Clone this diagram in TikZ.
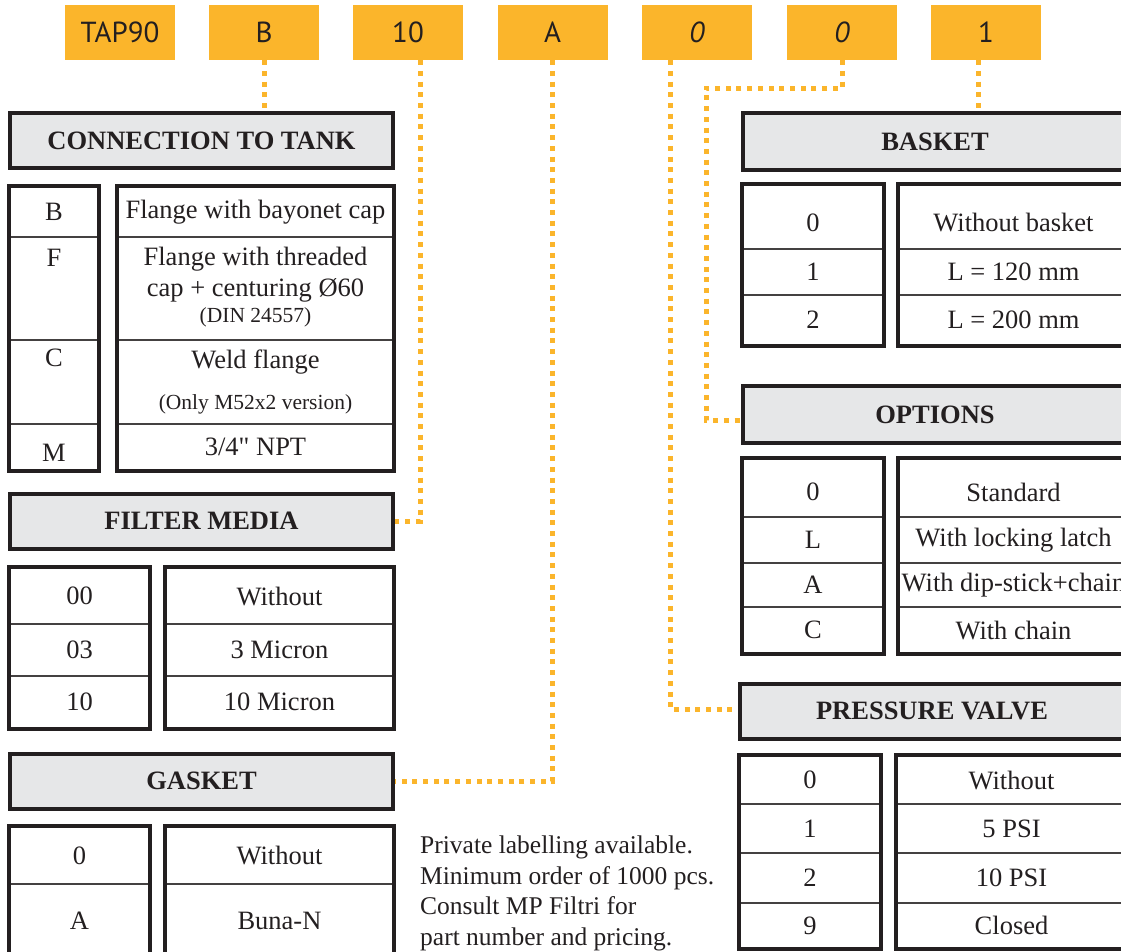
\documentclass[tikz,border=0pt]{standalone}
\usepackage{fontspec}
\setmainfont{Liberation Serif}[Ligatures=TeXOff]
\newfontfamily\selfont{PT Sans}
\usepackage{tikz}
\usetikzlibrary{
  positioning,
  fit
}

\definecolor{selorange}{HTML}{FBB52B}
\definecolor{headgray}{HTML}{E6E7E8}
\definecolor{edge}{HTML}{231F20}

\newcommand{\tabsize}{\fontsize{26.5}{30.5}\selectfont}
\newcommand{\notesize}{\fontsize{25.5}{30.5}\selectfont}
\newcommand{\finesize}{\fontsize{21.5}{25}\selectfont}

\begin{document}
\begin{tikzpicture}[
  x=1pt, y=-1pt,
  selbox/.style={
    rectangle,
    fill=selorange,
    minimum width=110pt,
    minimum height=55pt,
    inner sep=0pt,
    text=edge,
    font=\selfont\fontsize{29}{32}\selectfont
  },
  header/.style={
    rectangle,
    draw=edge,
    line width=4pt,
    fill=headgray,
    minimum width=383pt,
    minimum height=55pt,
    inner sep=0pt,
    text=edge,
    font=\bfseries\tabsize
  },
  cell/.style={
    rectangle,
    draw=edge!85,
    line width=1.8pt,
    inner sep=0pt,
    text=edge,
    font=\tabsize
  },
  frame/.style={
    rectangle,
    draw=edge,
    line width=4pt,
    inner sep=0pt
  },
  txt/.style={
    inner sep=0pt,
    text=edge,
    font=\tabsize
  },
  fine/.style={
    inner sep=0pt,
    text=edge,
    font=\finesize
  },
  dots/.style={
    draw=selorange,
    line width=5pt,
    dash pattern=on 5pt off 5.7pt
  }
]

\useasboundingbox (0,0) rectangle (1121,951);

% Ordering code
\node[selbox] (selTap) at (120,32.5) {TAP90};
\node[selbox] (selB) at (264,32.5) {B};
\node[selbox] (sel10) at (408,32.5) {10};
\node[selbox] (selA) at (552.5,32.5) {A};
\node[selbox] (sel0a) at (697,32.5) {\itshape 0};
\node[selbox] (sel0b) at (842,32.5) {\itshape 0};
\node[selbox] (sel1) at (986,32.5) {1};

% Section headers
\node[header] (hConn) at (201.5,140.5) {CONNECTION TO TANK};
\node[header] (hFilter) at (201.5,521) {FILTER MEDIA};
\node[header] (hGasket) at (201.5,781) {GASKET};
\node[header, minimum width=384pt, minimum height=57pt] (hBasket) at (935,141.5) {BASKET};
\node[header, minimum width=384pt, minimum height=57pt] (hOptions) at (935,414.5) {OPTIONS};
\node[header, minimum width=384pt] (hValve) at (932,711) {PRESSURE VALVE};

% Connection to tank
\node[cell, minimum width=88pt, minimum height=50pt] (cnB) at (54,212) {B};
\node[cell, minimum width=88pt, minimum height=103pt] (cnF) at (54,288.5) {};
\node[cell, minimum width=88pt, minimum height=84pt] (cnC) at (54,382) {};
\node[cell, minimum width=88pt, minimum height=46pt] (cnM) at (54,447) {};
\node[txt] (tnF) at (54,258) {F};
\node[txt] (tnC) at (54,358) {C};
\node[txt] (tnM) at (54,453) {M};

\node[cell, minimum width=275pt, minimum height=50pt] (dnB) at (255.5,212) {Flange with bayonet cap};
\node[cell, minimum width=275pt, minimum height=103pt] (dnF) at (255.5,288.5) {};
\node[cell, minimum width=275pt, minimum height=84pt] (dnC) at (255.5,382) {};
\node[cell, minimum width=275pt, minimum height=46pt] (dnM) at (255.5,447) {3/4" NPT};
\node[txt] (tdF1) at (255.5,259) {Flange with threaded};
\node[txt] (tdF2) at (255.5,290) {cap + centuring Ø60};
\node[fine] (tdF3) at (255.5,317) {(DIN 24557)};
\node[txt] (tdC1) at (255.5,362) {Weld flange};
\node[fine] (tdC2) at (255.5,404) {(Only M52x2 version)};

\node[frame, fit=(cnB)(cnM)] (fnCode) {};
\node[frame, fit=(dnB)(dnM)] (fnDesc) {};

% Filter media
\node[cell, minimum width=139pt, minimum height=56pt] (cf00) at (79.5,596) {00};
\node[cell, minimum width=139pt, minimum height=52pt] (cf03) at (79.5,650) {03};
\node[cell, minimum width=139pt, minimum height=52pt] (cf10) at (79.5,702) {10};
\node[cell, minimum width=227pt, minimum height=56pt] (df00) at (279.5,596) {Without};
\node[cell, minimum width=227pt, minimum height=52pt] (df03) at (279.5,650) {3 Micron};
\node[cell, minimum width=227pt, minimum height=52pt] (df10) at (279.5,702) {10 Micron};
\node[frame, fit=(cf00)(cf10)] (ffCode) {};
\node[frame, fit=(df00)(df10)] (ffDesc) {};

% Gasket
\node[cell, minimum width=139pt, minimum height=57pt] (cg0) at (79.5,855.5) {0};
\node[cell, minimum width=139pt, minimum height=76pt] (cgA) at (79.5,922) {};
\node[cell, minimum width=227pt, minimum height=57pt] (dg0) at (279.5,855.5) {Without};
\node[cell, minimum width=227pt, minimum height=76pt] (dgA) at (279.5,922) {};
\node[txt] (tgA) at (79.5,921) {A};
\node[txt] (tdgA) at (279.5,921) {Buna-N};
\node[frame, fit=(cg0)(cgA)] (fgCode) {};
\node[frame, fit=(dg0)(dgA)] (fgDesc) {};

% Note
\node[txt, font=\notesize, align=left, anchor=north west] (note) at (420,836) {Private labelling available.\\Minimum order of 1000 pcs.\\Consult MP Filtri for\\part number and pricing.};

% Basket
\node[cell, minimum width=140pt, minimum height=64pt] (cb0) at (813,217) {};
\node[cell, minimum width=140pt, minimum height=46pt] (cb1) at (813,272) {1};
\node[cell, minimum width=140pt, minimum height=50pt] (cb2) at (813,320) {2};
\node[cell, minimum width=229pt, minimum height=64pt] (db0) at (1013.5,217) {};
\node[cell, minimum width=229pt, minimum height=46pt] (db1) at (1013.5,272) {L = 120 mm};
\node[cell, minimum width=229pt, minimum height=50pt] (db2) at (1013.5,320) {L = 200 mm};
\node[txt] (tb0) at (813,223) {0};
\node[txt] (tdb0) at (1013.5,223) {Without basket};
\node[frame, fit=(cb0)(cb2)] (fbCode) {};
\node[frame, fit=(db0)(db2)] (fbDesc) {};

% Options
\node[cell, minimum width=140pt, minimum height=58pt] (co0) at (813,488) {};
\node[cell, minimum width=140pt, minimum height=46pt] (coL) at (813,540) {L};
\node[cell, minimum width=140pt, minimum height=44pt] (coA) at (813,585) {A};
\node[cell, minimum width=140pt, minimum height=46pt] (coC) at (813,630) {C};
\node[cell, minimum width=229pt, minimum height=58pt] (do0) at (1013.5,488) {};
\node[cell, minimum width=229pt, minimum height=46pt] (doL) at (1013.5,540) {With locking latch};
\node[cell, minimum width=229pt, minimum height=44pt] (doA) at (1013.5,585) {With dip-stick+chain};
\node[cell, minimum width=229pt, minimum height=46pt] (doC) at (1013.5,630) {With chain};
\node[txt] (to0) at (813,492) {0};
\node[txt] (tdo0) at (1013.5,492) {Standard};
\node[frame, fit=(co0)(coC)] (foCode) {};
\node[frame, fit=(do0)(doC)] (foDesc) {};

% Pressure valve
\node[cell, minimum width=140pt, minimum height=48pt] (cv0) at (810,780) {0};
\node[cell, minimum width=140pt, minimum height=49pt] (cv1) at (810,828.5) {1};
\node[cell, minimum width=140pt, minimum height=50pt] (cv2) at (810,878) {2};
\node[cell, minimum width=140pt, minimum height=45pt] (cv9) at (810,925.5) {9};
\node[cell, minimum width=229pt, minimum height=48pt] (dv0) at (1011.5,780) {Without};
\node[cell, minimum width=229pt, minimum height=49pt] (dv1) at (1011.5,828.5) {5 PSI};
\node[cell, minimum width=229pt, minimum height=50pt] (dv2) at (1011.5,878) {10 PSI};
\node[cell, minimum width=229pt, minimum height=45pt] (dv9) at (1011.5,925.5) {Closed};
\node[frame, fit=(cv0)(cv9)] (fvCode) {};
\node[frame, fit=(dv0)(dv9)] (fvDesc) {};

% Dotted leaders
\coordinate (optBend) at (706,88);
\draw[dots] (selB.south) -- (selB.south |- hConn.north);
\draw[dots] ([xshift=12pt]sel10.south) |- (hFilter.east);
\draw[dots] (selA.south) |- (hGasket.east);
\draw[dots] ([xshift=-27pt]sel0a.south) |- ([yshift=2pt]hValve.west);
\draw[dots] (sel0b.south) |- (optBend) |- ([yshift=-5.5pt]hOptions.west);
\draw[dots] ([xshift=-8pt]sel1.south) -- ([xshift=-8pt]sel1.south |- hBasket.north);

\end{tikzpicture}
\end{document}
